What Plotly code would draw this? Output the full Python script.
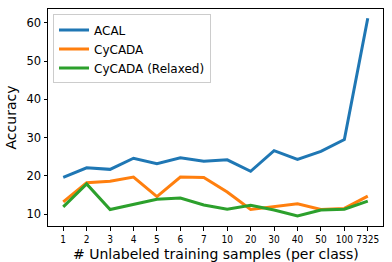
import plotly.graph_objects as go

categories = ["1", "2", "3", "4", "5", "6", "7", "10", "20", "30", "40", "50", "100", "7325"]
acal = [19.6, 22.1, 21.7, 24.6, 23.2, 24.7, 23.8, 24.2, 21.2, 26.6, 24.3, 26.4, 29.5, 61.2]
cycada = [13.2, 18.2, 18.6, 19.7, 14.6, 19.7, 19.6, 15.8, 11.2, 11.9, 12.7, 11.2, 11.5, 14.7]
cycada_relaxed = [11.9, 17.9, 11.2, 12.6, 13.9, 14.2, 12.4, 11.3, 12.3, 11.1, 9.5, 11.1, 11.3, 13.4]

idx = list(range(len(categories)))

fig = go.Figure()
for name, vals, col in [("ACAL", acal, "#1f77b4"),
                        ("CyCADA", cycada, "#ff7f0e"),
                        ("CyCADA (Relaxed)", cycada_relaxed, "#2ca02c")]:
    fig.add_trace(go.Scatter(x=idx, y=vals, mode="lines", name=name,
                             line=dict(color=col, width=3)))

fig.update_layout(
    width=392, height=262,
    margin=dict(l=48, r=9, t=9, b=36, autoexpand=False),
    paper_bgcolor="white", plot_bgcolor="white",
    font=dict(family="DejaVu Sans", color="black"),
    showlegend=True,
    legend=dict(x=0.015, y=0.975, xanchor="left", yanchor="top",
                bgcolor="rgba(255,255,255,0.8)", bordercolor="#cccccc", borderwidth=1,
                font=dict(size=12), itemwidth=30, tracegroupgap=0),
    annotations=[dict(text="# Unlabeled training samples (per class)", x=0.5, y=0,
                      xref="paper", yref="paper", xanchor="center", yanchor="middle",
                      yshift=-28, showarrow=False, font=dict(size=14))],
)
fig.update_xaxes(range=[-0.65, 13.65], tickmode="array", tickvals=idx, ticktext=categories,
                 tickangle=0,
                 showgrid=False, zeroline=False, showline=True, linecolor="black", linewidth=1,
                 mirror=True, ticks="outside", ticklen=3.5, tickcolor="black",
                 tickfont=dict(size=10, family="DejaVu Sans Condensed"))
fig.update_yaxes(range=[6.9, 63.6], tickvals=[10, 20, 30, 40, 50, 60],
                 showgrid=False, zeroline=False, showline=True, linecolor="black", linewidth=1,
                 mirror=True, ticks="outside", ticklen=3.5, tickcolor="black",
                 tickfont=dict(size=11.5),
                 title=dict(text="Accuracy", font=dict(size=14), standoff=6))

fig.write_html("out.html", config={"displayModeBar": False},
               post_script="document.body.style.margin='0';")
